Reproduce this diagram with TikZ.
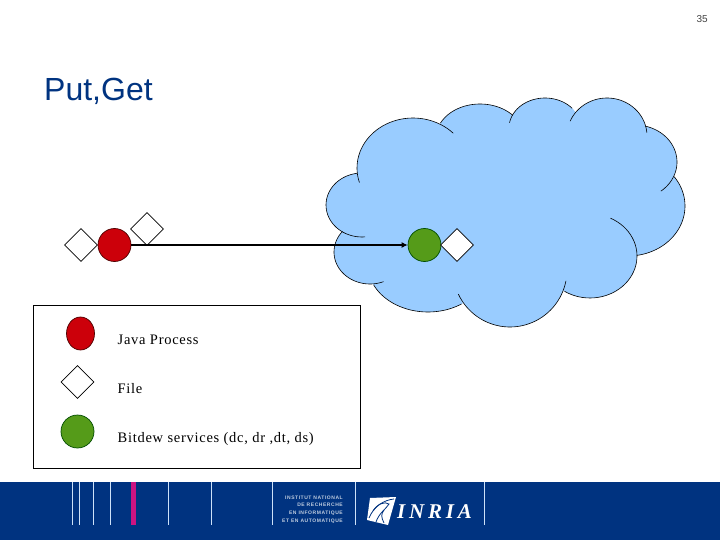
\documentclass[tikz,border=0pt]{standalone}
\usepackage{fontspec}
\newfontfamily\arialfont{Liberation Sans}
\newfontfamily\legendfont[LetterSpace=5]{Liberation Serif}
\newfontfamily\instfont[LetterSpace=11]{Liberation Sans}
\newfontfamily\inriafont[LetterSpace=18]{Liberation Serif}
\usetikzlibrary{shapes.geometric,arrows.meta}
\definecolor{bandblue}{RGB}{0,51,128}
\definecolor{cloudblue}{RGB}{153,204,255}
\definecolor{procred}{RGB}{204,0,10}
\definecolor{servgreen}{RGB}{85,155,25}
\definecolor{barblue}{RGB}{205,225,248}
\definecolor{barpink}{RGB}{204,20,130}
\tikzset{
	filenode/.style={diamond,draw=black,fill=white,line width=0.6pt,inner sep=0pt,minimum width=33pt,minimum height=33pt},
	procnode/.style={circle,draw=black!70!red,fill=procred,line width=0.7pt,inner sep=0pt,minimum size=33pt},
	servnode/.style={circle,draw=black!70!green,fill=servgreen,line width=0.7pt,inner sep=0pt,minimum size=33pt},
	legendtext/.style={anchor=base west,inner sep=0pt,font=\legendfont\fontsize{14.5}{16}\selectfont},
	logotext/.style={anchor=east,inner sep=0pt,text=white!75!bandblue,font=\instfont\fontsize{5}{6}\selectfont\bfseries}
}
% centre x/y, radii x/y, arc from/to (clockwise on the page)
\newcommand{\lobelist}{413/168/56/50/163/316,480/138/44/34/206/318,545/128/36/30/190/319,
	607/136/40/38/203/355,635/162/42/37/284/412,628/206/57/50/324/441,
	590/256/47/42/296/483,510/270/57/57/11/155,428/265/60/47/56/155,
	370/252/36/32/68/220,362/205/36/32/85/262}
\begin{document}
\begin{tikzpicture}[x=1pt,y=-1pt]
	\useasboundingbox (0,0) rectangle (720,540);
	% footer
	\fill[bandblue] (0,482) rectangle (720,540);
	\foreach \xbar in {72.5,79.5,93,110.5,168.5,211,272,355,484}
		\draw[barblue,line width=0.8pt] (\xbar,482)--(\xbar,524.5);
	\draw[barpink,line width=4.5pt] (133.3,482)--(133.3,524.5);
	\node[logotext] (instone) at (343,497.5) {INSTITUT NATIONAL};
	\node[logotext] (insttwo) at (343,505) {DE RECHERCHE};
	\node[logotext] (instthree) at (343,513) {EN INFORMATIQUE};
	\node[logotext] (instfour) at (343,521) {ET EN AUTOMATIQUE};
	\fill[white] (370,498) -- (396,497) -- (388,525) -- (367,520) -- cycle;
	\draw[bandblue,line width=0.8pt] (369,518) .. controls (374,506) and (384,500) .. (394,499);
	\draw[bandblue,line width=0.8pt] (376,522) .. controls (379,513) and (386,509) .. (389,504) .. controls (385,501) and (377,504) .. (373,511);
	\draw[bandblue,line width=0.8pt] (384,523) .. controls (381,517) and (381,514) .. (384,510);
	\node[anchor=west,inner sep=0pt,text=white,font=\inriafont\fontsize{21}{22}\selectfont\itshape\bfseries] (inria) at (397,512) {INRIA};
	% title and page number
	\node[anchor=west,inner sep=0pt,text=bandblue,font=\arialfont\fontsize{32}{34}\selectfont] (title) at (44,91) {Put,Get};
	\node[anchor=east,inner sep=0pt,text=black!75,font=\arialfont\fontsize{10}{11}\selectfont] (pagenum) at (708,19) {35};
	% cloud
	\fill[cloudblue] (413,168) -- (480,138) -- (545,128) -- (607,136) -- (635,162) -- (628,206) -- (590,256) -- (510,270) -- (428,265) -- (370,252) -- (362,205) -- cycle;
	\foreach \cx/\cy/\rx/\ry/\sa/\ea in \lobelist
		\fill[cloudblue] (\cx,\cy) ellipse [x radius=\rx,y radius=\ry];
	\foreach \cx/\cy/\rx/\ry/\sa/\ea in \lobelist
		\draw[line width=0.6pt] plot[domain=\sa:\ea,samples=40,variable=\t] ({\cx+\rx*cos(\t)},{\cy+\ry*sin(\t)});
	% processes and files
	\node[filenode] (fileleft) at (81,245) {};
	\node[filenode] (fileup) at (147,229) {};
	\node[procnode] (proc) at (114.5,245) {};
	\node[servnode] (serv) at (424.5,245) {};
	\node[filenode] (fileright) at (457,245) {};
	\draw[-{Latex[length=6pt,width=6pt]},line width=1.3pt] (proc)--(serv);
	% legend
	\node[draw=black,line width=0.7pt,inner sep=0pt,minimum width=326.5pt,minimum height=163pt] (legend) at (197,386.5) {};
	\node[procnode,minimum size=0pt,minimum width=28pt,minimum height=33pt,ellipse] (keyproc) at (80.5,333.5) {};
	\node[filenode] (keyfile) at (77.5,382) {};
	\node[servnode] (keyserv) at (77.5,431.5) {};
	\node[legendtext] (textproc) at (117.5,344) {Java Process};
	\node[legendtext] (textfile) at (117.5,393) {File};
	\node[legendtext] (textserv) at (117.5,442) {Bitdew services (dc, dr ,dt, ds)};
\end{tikzpicture}
\end{document}
